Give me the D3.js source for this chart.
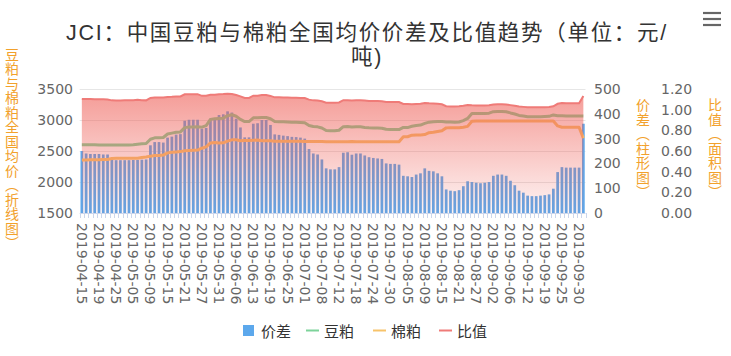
<!DOCTYPE html>
<html><head><meta charset="utf-8">
<script src="https://cdn.jsdelivr.net/npm/d3@7/dist/d3.min.js"></script>
<style>html,body{margin:0;padding:0;background:#fff;}svg{display:block;}</style>
</head><body><div id="chart"></div>
<script>
const categories = ["2019-04-15","2019-04-16","2019-04-17","2019-04-18","2019-04-19","2019-04-22","2019-04-23","2019-04-24","2019-04-25","2019-04-26","2019-04-29","2019-04-30","2019-05-05","2019-05-06","2019-05-07","2019-05-08","2019-05-09","2019-05-10","2019-05-13","2019-05-14","2019-05-15","2019-05-16","2019-05-17","2019-05-20","2019-05-21","2019-05-22","2019-05-23","2019-05-24","2019-05-27","2019-05-28","2019-05-29","2019-05-30","2019-05-31","2019-06-03","2019-06-04","2019-06-05","2019-06-06","2019-06-10","2019-06-11","2019-06-12","2019-06-13","2019-06-14","2019-06-17","2019-06-18","2019-06-19","2019-06-20","2019-06-21","2019-06-24","2019-06-25","2019-06-26","2019-06-27","2019-06-28","2019-07-01","2019-07-02","2019-07-03","2019-07-04","2019-07-08","2019-07-09","2019-07-10","2019-07-11","2019-07-12","2019-07-15","2019-07-16","2019-07-17","2019-07-18","2019-07-19","2019-07-22","2019-07-23","2019-07-24","2019-07-25","2019-07-26","2019-07-29","2019-07-30","2019-07-31","2019-08-01","2019-08-02","2019-08-05","2019-08-06","2019-08-07","2019-08-08","2019-08-09","2019-08-12","2019-08-13","2019-08-14","2019-08-15","2019-08-16","2019-08-19","2019-08-20","2019-08-21","2019-08-22","2019-08-23","2019-08-26","2019-08-27","2019-08-28","2019-08-29","2019-08-30","2019-09-02","2019-09-03","2019-09-04","2019-09-05","2019-09-06","2019-09-09","2019-09-10","2019-09-11","2019-09-12","2019-09-16","2019-09-17","2019-09-18","2019-09-19","2019-09-20","2019-09-23","2019-09-24","2019-09-25","2019-09-26","2019-09-27","2019-09-29","2019-09-30","2019-10-08"];

const xTickLabels = ["2019-04-15","2019-04-19","2019-04-25","2019-05-05","2019-05-09","2019-05-15","2019-05-21","2019-05-27","2019-05-31","2019-06-06","2019-06-13","2019-06-19","2019-06-25","2019-07-01","2019-07-08","2019-07-12","2019-07-18","2019-07-24","2019-07-30","2019-08-05","2019-08-09","2019-08-15","2019-08-21","2019-08-27","2019-09-02","2019-09-06","2019-09-12","2019-09-19","2019-09-25","2019-09-30"];

// 价差 (columns, right axis 1)
const spread = [250,240,238,238,238,236,236,
214,213,213,213,213,214,214,215,216,
273,286,286,284,
304,308,316,318,
372,376,376,376,
340,343,380,382,395,398,410,405,380,345,305,305,
360,362,375,375,355,
317,315,312,310,307,306,304,
300,258,240,236,216,
180,176,176,185,243,
245,235,240,240,232,225,222,220,218,
200,198,198,195,
150,148,145,155,160,
180,170,168,160,148,
95,90,88,92,108,128,
125,122,120,122,125,
150,155,155,150,
130,112,90,82,
70,68,68,70,72,75,
98,165,
185,183,183,183,183,
360];

// 豆粕 (line, left axis)
const soy = [2600,2600,2600,2600,2598,2598,2596,2595,2595,2595,2596,2598,2600,
2610,2615,2620,
2690,2712,2715,2718,
2774,2788,2801,2808,
2877,2886,2888,2891,
2885,2910,
3010,3020,3025,3030,
3070,3085,3060,
3010,
2975,2975,
3035,3038,3040,3040,3020,
2975,2972,2970,2968,2965,2962,2960,
2955,
2910,2895,2890,
2870,
2830,2826,2826,2835,
2892,2895,2888,2890,
2890,2880,2875,2872,2870,2868,
2850,2848,2848,2845,
2880,2878,2900,
2912,2918,
2945,
2965,2970,2975,
2976,
2968,2966,2965,2968,
2990,3025,
3105,3106,3104,3106,3110,
3134,3138,3138,3134,
3114,3096,3074,3066,
3054,3052,3052,3054,3056,3059,
3082,3070,
3068,3066,3066,3066,3066,
3065];

// 棉粕 (line, left axis)
const cotton = [2355,2355,2358,2360,2360,2362,2362,
2380,2382,2382,2382,2383,2384,2384,2395,2404,
2417,2426,2429,2434,
2470,2480,2485,2490,
2505,2510,2512,2515,
2545,2567,
2630,2638,2630,2632,
2660,2680,2680,
2665,
2670,2670,
2675,2676,2665,2665,2665,
2658,2657,2658,2658,2658,2656,2656,
2655,2652,2655,2654,2654,
2650,2650,2650,2650,
2649,2650,2653,2650,2650,2648,2650,2650,2650,2650,
2650,2650,2650,2650,
2730,2730,2755,
2757,2758,2765,
2795,2802,2815,2828,
2873,2876,2877,2876,
2882,2897,
2980,2984,2984,2984,2985,2984,2983,2983,2984,
2984,2984,2984,2984,2984,2984,2984,2984,2984,2984,2984,
2905,
2883,2883,2883,2883,2883,
2705];

// 比值 (area, right axis 2)
const ratio = [1.104,1.104,1.103,1.102,1.101,1.100,1.099,
1.090,1.089,1.089,1.090,1.090,1.091,1.095,1.092,1.090,
1.113,1.118,1.118,1.117,
1.123,1.124,1.127,1.128,
1.149,1.150,1.150,1.150,
1.134,1.134,
1.144,1.145,1.150,1.151,
1.154,1.151,1.142,
1.129,
1.114,1.114,
1.135,1.135,1.141,1.141,1.133,
1.119,1.119,1.117,1.117,1.116,1.115,1.114,
1.113,1.097,1.090,1.089,1.081,
1.068,1.066,1.066,1.070,
1.092,1.092,1.089,1.091,1.091,1.088,1.085,1.084,1.083,1.082,
1.075,1.075,1.075,1.074,
1.055,1.054,1.053,
1.056,1.058,1.065,
1.061,1.060,1.057,1.052,
1.033,1.031,1.031,1.032,
1.037,1.044,
1.042,1.041,1.040,1.041,1.042,1.050,1.052,1.052,1.050,
1.044,1.038,1.030,1.027,1.023,1.023,1.023,1.023,1.024,1.025,1.033,
1.057,
1.064,1.063,1.063,1.063,1.063,
1.133];

const leftTicks = [1500,2000,2500,3000,3500];
const spreadTicks = [0,100,200,300,400,500];
const ratioTicks = [0,0.2,0.4,0.6,0.8,1.0,1.2];

const seriesNames = ["价差","豆粕","棉粕","比值"];
const titleLines = ["JCI：中国豆粕与棉粕全国均价价差及比值趋势（单位：元/","吨)"];
const leftTitle = "豆粕与棉粕全国均价（折线图）";
const right1Title = "价差（柱形图）";
const right2Title = "比值（面积图）";

const W = 731, H = 356;
const plot = {left: 79.7, right: 585.5, top: 89, bottom: 213};
const COL = {bar:"#5ca8ec", soy:"#7dd39a", cotton:"#f7c36a", ratio:"#ef7b78", axisTitle:"#f2a12c"};
const CJK = "'Noto Sans CJK SC','Noto Sans',sans-serif";
const NUM = "'DejaVu Sans',sans-serif";

const svg = d3.select("#chart").append("svg").attr("width", W).attr("height", H);
svg.append("rect").attr("width", W).attr("height", H).attr("fill", "#fff");

const x = d3.scaleBand().domain(categories).range([plot.left, plot.right]).padding(0);
const cx = d => x(d) + x.bandwidth() / 2;
const yL = d3.scaleLinear().domain([1500, 3500]).range([plot.bottom, plot.top]);
const yS = d3.scaleLinear().domain([0, 500]).range([plot.bottom, plot.top]);
const yR = d3.scaleLinear().domain([0, 1.2]).range([plot.bottom, plot.top]);

// gridlines
svg.append("g").selectAll("line").data(leftTicks.filter(t => t > 1500)).join("line")
  .attr("x1", plot.left).attr("x2", plot.right)
  .attr("y1", d => Math.round(yL(d)) + 0.5).attr("y2", d => Math.round(yL(d)) + 0.5)
  .attr("stroke", "#e6e6e6").attr("stroke-width", 1);

// bars
const bw = 2.7;
svg.append("g").selectAll("rect").data(categories).join("rect")
  .attr("x", (d) => cx(d) - bw / 2)
  .attr("width", bw)
  .attr("y", (d, i) => yS(spread[i]))
  .attr("height", (d, i) => plot.bottom - yS(spread[i]))
  .attr("fill", COL.bar);

// lines
const lineGen = (arr) => d3.line().x((d) => cx(d)).y((d, i) => yL(arr[i]));
svg.append("path").datum(categories).attr("d", lineGen(soy))
  .attr("fill", "none").attr("stroke", COL.soy).attr("stroke-width", 3).attr("stroke-linejoin", "round");
svg.append("path").datum(categories).attr("d", lineGen(cotton))
  .attr("fill", "none").attr("stroke", COL.cotton).attr("stroke-width", 3).attr("stroke-linejoin", "round");

// area
const defs = svg.append("defs");
const grad = defs.append("linearGradient").attr("id", "ag")
  .attr("gradientUnits", "userSpaceOnUse")
  .attr("x1", 0).attr("x2", 0).attr("y1", yR(1.15)).attr("y2", plot.bottom);
grad.append("stop").attr("offset", 0).attr("stop-color", "rgb(238,92,84)").attr("stop-opacity", 0.6);
grad.append("stop").attr("offset", 1).attr("stop-color", "rgb(238,92,84)").attr("stop-opacity", 0.07);
const areaGen = d3.area().x((d) => cx(d)).y0(plot.bottom).y1((d, i) => yR(ratio[i]));
svg.append("path").datum(categories).attr("d", areaGen).attr("fill", "url(#ag)");
svg.append("path").datum(categories).attr("d", d3.line().x((d) => cx(d)).y((d, i) => yR(ratio[i])))
  .attr("fill", "none").attr("stroke", COL.ratio).attr("stroke-width", 2);

// x axis line and ticks
svg.append("line").attr("x1", plot.left).attr("x2", plot.right).attr("y1", plot.bottom + 0.5).attr("y2", plot.bottom + 0.5)
  .attr("stroke", "#ccd6eb");
const bounds = categories.map(c => x(c)).concat([plot.right]);
svg.append("g").selectAll("line").data(bounds).join("line")
  .attr("x1", d => Math.round(d) + 0.5).attr("x2", d => Math.round(d) + 0.5)
  .attr("y1", plot.bottom).attr("y2", plot.bottom + 5).attr("stroke", "#ccd6eb");

// x labels
svg.append("g").selectAll("text").data(xTickLabels).join("text")
  .attr("transform", d => `translate(${cx(d)},${plot.bottom + 10}) rotate(90)`)
  .attr("text-anchor", "start").attr("dominant-baseline", "central")
  .attr("font-family", NUM).attr("font-size", 14).attr("fill", "#666").text(d => d);

// y labels
svg.append("g").selectAll("text").data(leftTicks).join("text")
  .attr("x", 73).attr("y", d => yL(d)).attr("text-anchor", "end").attr("dominant-baseline", "central")
  .attr("font-family", NUM).attr("font-size", 14).attr("fill", "#666").text(d => d);
svg.append("g").selectAll("text").data(spreadTicks).join("text")
  .attr("x", 594).attr("y", d => yS(d)).attr("text-anchor", "start").attr("dominant-baseline", "central")
  .attr("font-family", NUM).attr("font-size", 14).attr("fill", "#666").text(d => d);
svg.append("g").selectAll("text").data(ratioTicks).join("text")
  .attr("x", 661).attr("y", d => yR(d)).attr("text-anchor", "start").attr("dominant-baseline", "central")
  .attr("font-family", NUM).attr("font-size", 14).attr("fill", "#666").text(d => d3.format(".2f")(d));

// axis titles (vertical)
function vTitle(txt, xx, yy) {
  svg.append("text").attr("x", xx).attr("y", yy)
    .attr("text-anchor", "middle")
    .style("writing-mode", "vertical-rl")
    .style("letter-spacing", "0.5px")
    .attr("font-family", CJK).attr("font-size", 14).attr("fill", COL.axisTitle).text(txt);
}
vTitle(leftTitle, 12, 149);
vTitle(right1Title, 643, 148.5);
vTitle(right2Title, 715, 148.5);

// title (wrapped on two lines)
svg.append("g").selectAll("text").data(titleLines).join("text")
  .attr("x", 367).attr("y", (d, i) => 40 + i * 24.2)
  .attr("text-anchor", "middle")
  .attr("font-family", "'Liberation Sans','Noto Sans CJK SC',sans-serif")
  .attr("font-size", 21.5).attr("fill", "#333")
  .style("letter-spacing", "1.7px")
  .text(d => d);

// menu icon
svg.append("g").selectAll("line").data([0, 1, 2]).join("line")
  .attr("x1", 703).attr("x2", 721).attr("y1", d => 13 + d * 6).attr("y2", d => 13 + d * 6)
  .attr("stroke", "#666").attr("stroke-width", 2.2);

// legend
const legendItems = [
  {name: seriesNames[0], color: COL.bar, type: "box", x: 243},
  {name: seriesNames[1], color: COL.soy, type: "line", x: 306},
  {name: seriesNames[2], color: COL.cotton, type: "line", x: 373},
  {name: seriesNames[3], color: COL.ratio, type: "line", x: 439}
];
const lg = svg.append("g");
const ly = 330.5;
legendItems.forEach(it => {
  if (it.type === "box") {
    lg.append("rect").attr("x", it.x).attr("y", ly - 5.5).attr("width", 11).attr("height", 11).attr("fill", it.color);
  } else {
    lg.append("line").attr("x1", it.x).attr("x2", it.x + 13).attr("y1", ly).attr("y2", ly)
      .attr("stroke", it.color).attr("stroke-width", 2);
  }
  lg.append("text").attr("x", it.x + 18).attr("y", ly).attr("dominant-baseline", "central")
    .attr("font-family", CJK).attr("font-size", 15).attr("fill", "#333").text(it.name);
});
</script></body></html>
